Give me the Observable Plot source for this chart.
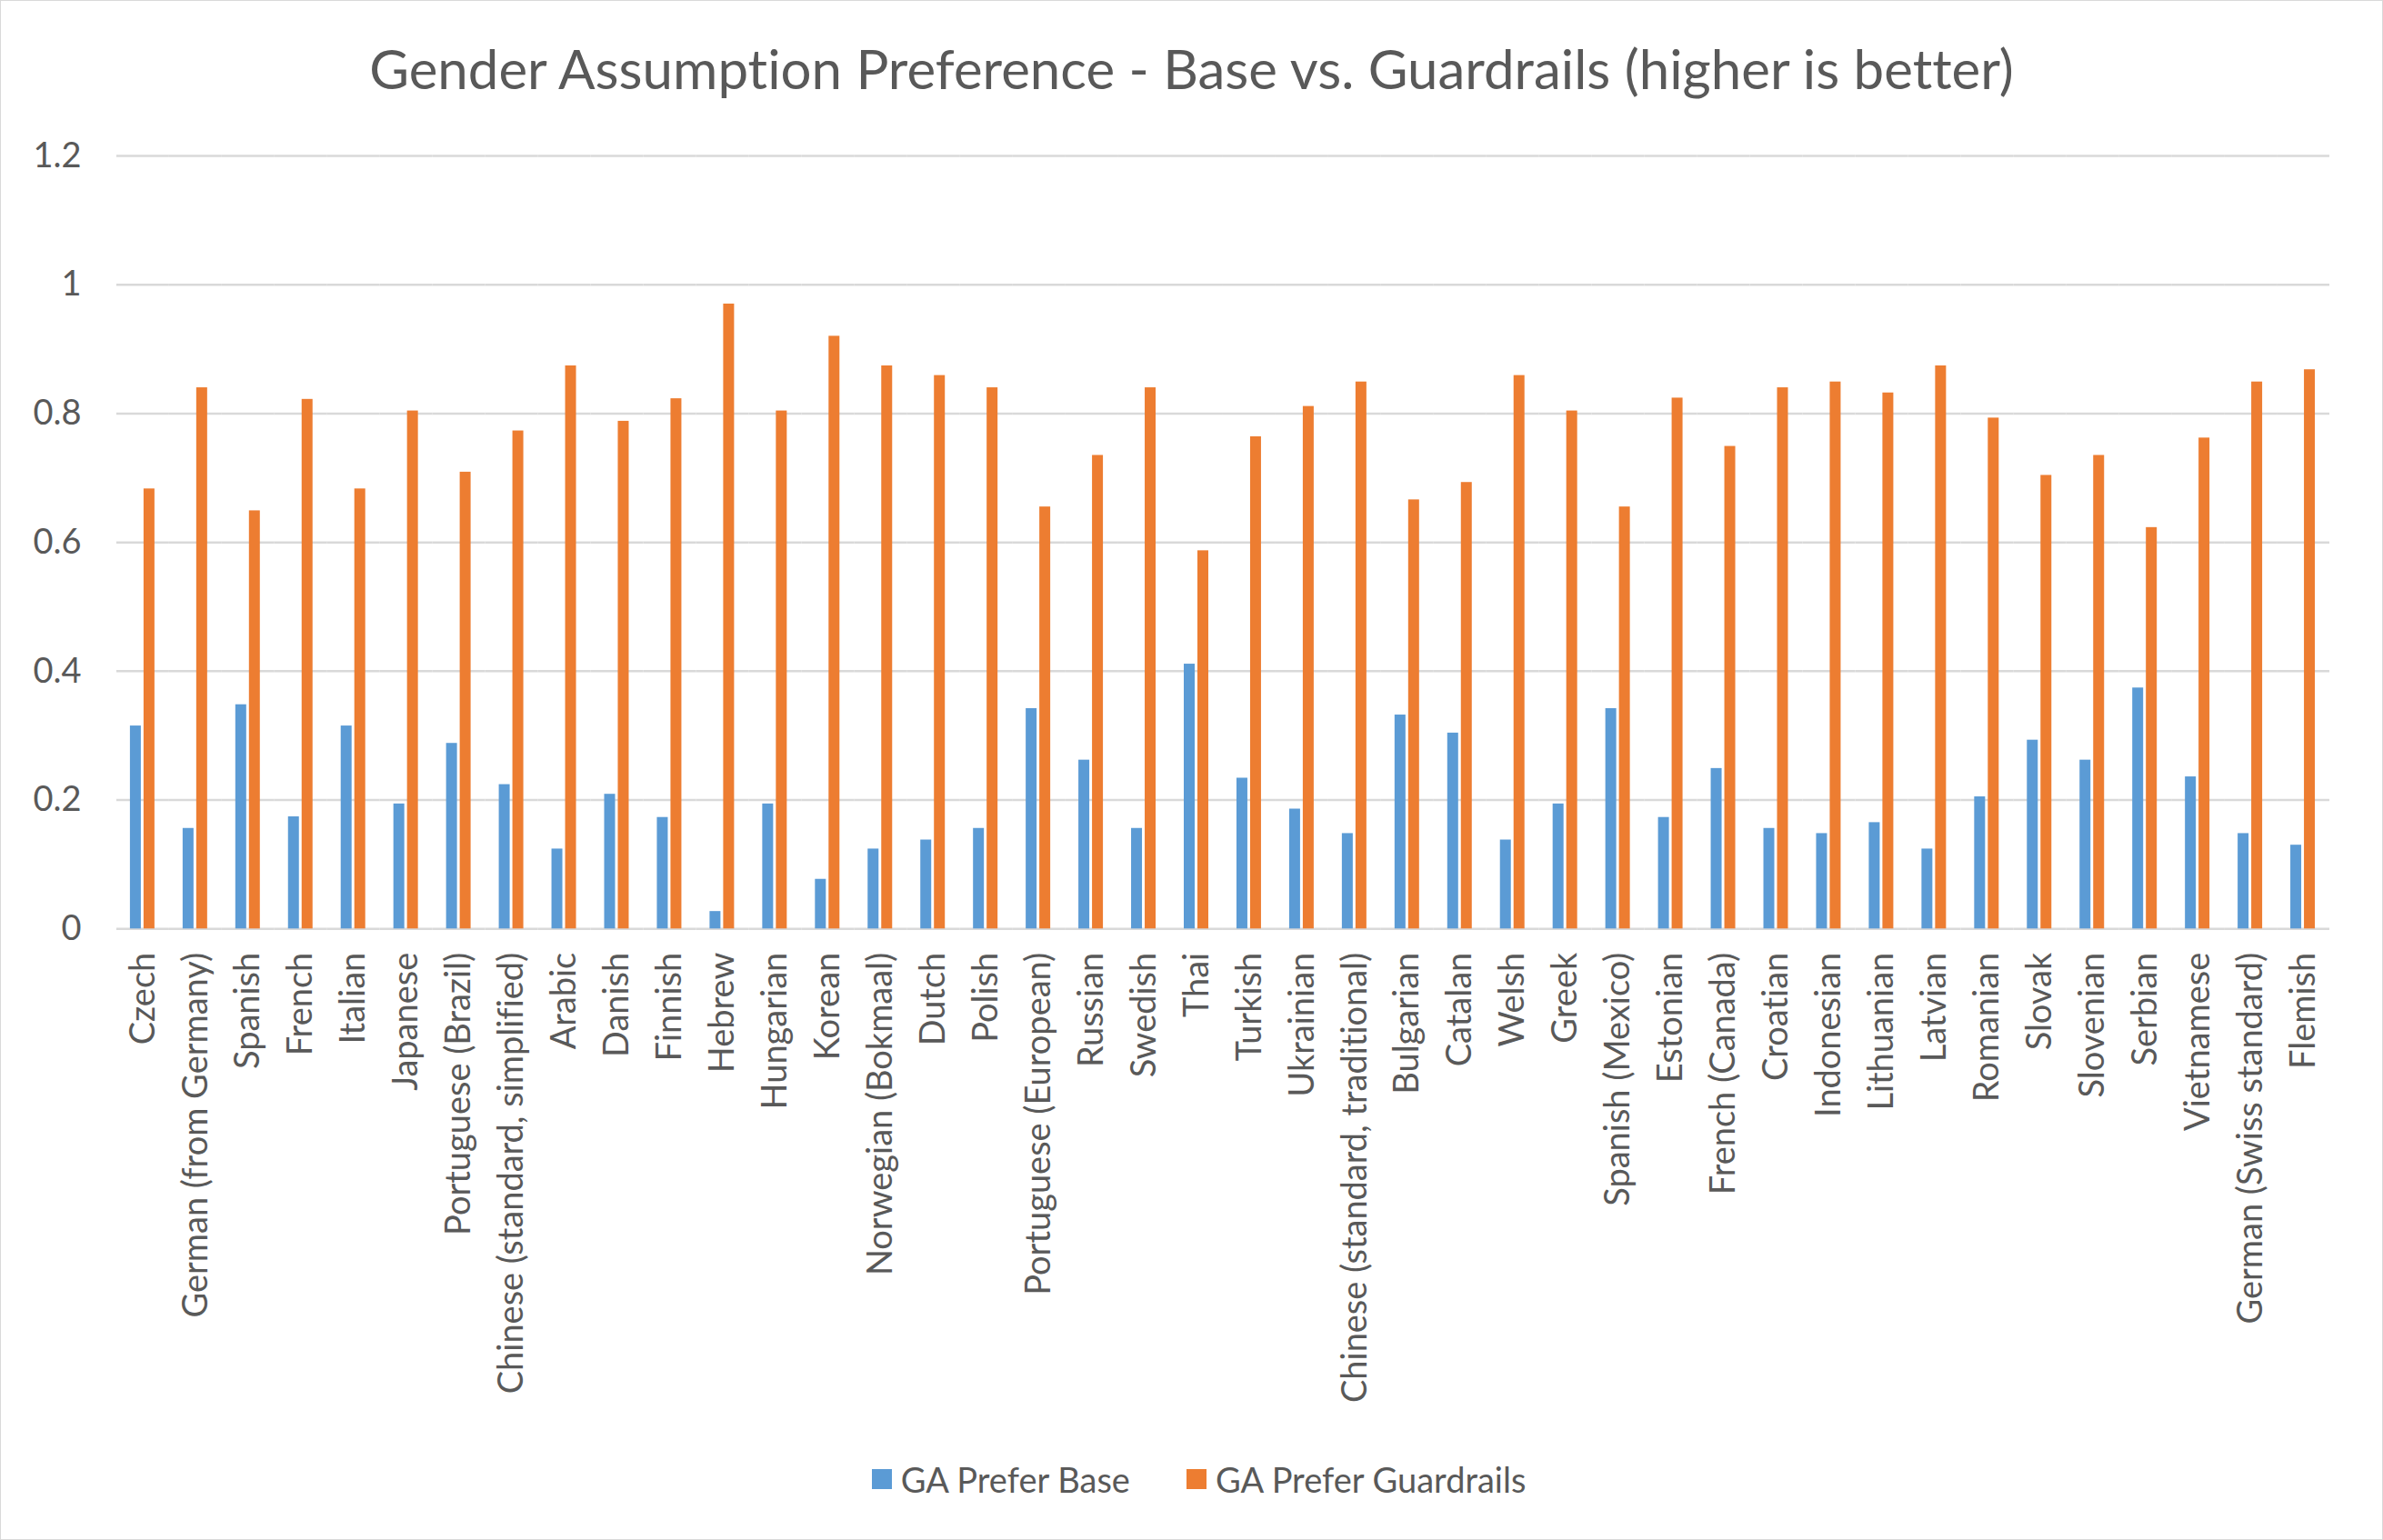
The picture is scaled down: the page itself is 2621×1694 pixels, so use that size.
<!DOCTYPE html>
<html>
<head>
<meta charset="utf-8">
<script src="https://cdn.jsdelivr.net/npm/d3@7"></script>
<script src="https://cdn.jsdelivr.net/npm/@observablehq/plot@0.6"></script>
<style>
  html, body { margin: 0; padding: 0; background: #fff; }
  #chart { position: relative; width: 2619px; height: 1692px; border: 1px solid #d9d9d9; background: #fff;
           font-family: Lato, "Open Sans", sans-serif; color: #595959; overflow: hidden;
           font-variant-ligatures: none; }
  #chart svg text { font-variant-ligatures: none; }
  #title { position: absolute; left: 0; right: 0; top: 44px; text-align: center; font-size: 60px; line-height: 1; white-space: nowrap; }
  #plot { position: absolute; left: 0; top: 120px; }
  #legend { position: absolute; left: 0; right: 0; top: 1604px; display: flex; justify-content: center; align-items: center;
            gap: 62px; font-size: 38px; line-height: 44px; padding-left: 16px; }
  .item { display: flex; align-items: center; gap: 10px; }
  .sw { width: 22px; height: 22px; display: inline-block; }
</style>
</head>
<body>
<div id="chart">
  <div id="title"></div>
  <div id="plot"></div>
  <div id="legend"></div>
</div>
<script>
const titleText = "Gender Assumption Preference - Base vs. Guardrails (higher is better)";
const seriesNames = ["GA Prefer Base", "GA Prefer Guardrails"];
const seriesColors = ["#5b9bd5", "#ed7d31"];
const languages = [
  "Czech", "German (from Germany)", "Spanish", "French", "Italian", "Japanese",
  "Portuguese (Brazil)", "Chinese (standard, simplified)", "Arabic", "Danish", "Finnish",
  "Hebrew", "Hungarian", "Korean", "Norwegian (Bokmaal)", "Dutch", "Polish",
  "Portuguese (European)", "Russian", "Swedish", "Thai", "Turkish", "Ukrainian",
  "Chinese (standard, traditional)", "Bulgarian", "Catalan", "Welsh", "Greek",
  "Spanish (Mexico)", "Estonian", "French (Canada)", "Croatian", "Indonesian",
  "Lithuanian", "Latvian", "Romanian", "Slovak", "Slovenian", "Serbian",
  "Vietnamese", "German (Swiss standard)", "Flemish"
];
const baseValues = [
  0.315, 0.156, 0.348, 0.174, 0.315, 0.194,
  0.288, 0.224, 0.124, 0.209, 0.173,
  0.027, 0.194, 0.077, 0.124, 0.138, 0.156,
  0.342, 0.262, 0.156, 0.411, 0.234, 0.186,
  0.148, 0.332, 0.304, 0.138, 0.194,
  0.342, 0.173, 0.249, 0.156, 0.148,
  0.165, 0.124, 0.205, 0.293, 0.262, 0.374,
  0.236, 0.148, 0.130
];
const guardrailValues = [
  0.683, 0.840, 0.649, 0.822, 0.683, 0.804,
  0.709, 0.773, 0.874, 0.788, 0.823,
  0.970, 0.804, 0.920, 0.874, 0.859, 0.840,
  0.655, 0.735, 0.840, 0.587, 0.764, 0.811,
  0.849, 0.666, 0.693, 0.859, 0.804,
  0.655, 0.824, 0.749, 0.840, 0.849,
  0.832, 0.874, 0.793, 0.704, 0.735, 0.623,
  0.762, 0.849, 0.868
];
const yTicks = [0, 0.2, 0.4, 0.6, 0.8, 1, 1.2];
const yTickLabels = ["0", "0.2", "0.4", "0.6", "0.8", "1", "1.2"];

const data = [];
languages.forEach((lang, i) => {
  data.push({language: lang, series: seriesNames[0], value: baseValues[i]});
  data.push({language: lang, series: seriesNames[1], value: guardrailValues[i]});
});

document.getElementById("title").textContent = titleText;

const chart = Plot.plot({
  width: 2621,
  height: 1441,
  marginTop: 50,
  marginLeft: 121,
  marginRight: 53,
  marginBottom: 540,
  style: {fontFamily: "Lato, 'Open Sans', sans-serif", fontSize: "38px", color: "#595959", background: "#fff", overflow: "visible"},
  fx: {domain: languages, padding: 0, label: null, axis: null},
  x: {domain: seriesNames, paddingInner: 0.18, paddingOuter: 0.98, axis: null},
  y: {domain: [0, 1.2], label: null, axis: null},
  color: {domain: seriesNames, range: seriesColors},
  marks: [
    Plot.gridY(yTicks, {stroke: "#d9d9d9", strokeOpacity: 1, strokeWidth: 2.5}),
    Plot.axisY({ticks: yTicks, tickFormat: (d) => yTickLabels[yTicks.indexOf(d)], tickSize: 0, tickPadding: 39,
                label: null, fill: "#595959", fontSize: 38}),
    Plot.text(languages, {fx: (d) => d, text: (d) => d, frameAnchor: "bottom", rotate: -90,
                          textAnchor: "end", lineAnchor: "middle", dy: 26, fill: "#595959", fontSize: 38,
                          lineWidth: Infinity, textOverflow: null}),
    Plot.barY(data, {fx: "language", x: "series", y: "value", fill: "series"})
  ]
});
document.getElementById("plot").appendChild(chart);

const legend = document.getElementById("legend");
seriesNames.forEach((name, i) => {
  const item = document.createElement("div");
  item.className = "item";
  const sw = document.createElement("span");
  sw.className = "sw";
  sw.style.background = seriesColors[i];
  const label = document.createElement("span");
  label.textContent = name;
  item.appendChild(sw);
  item.appendChild(label);
  legend.appendChild(item);
});
</script>
</body>
</html>
